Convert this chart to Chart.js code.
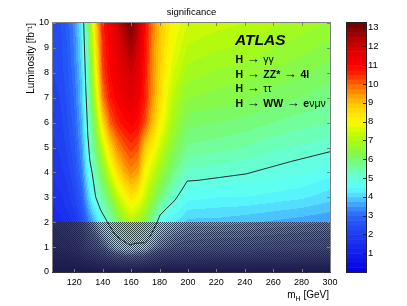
<!DOCTYPE html>
<html>
<head>
<meta charset="utf-8">
<script src="https://cdn.jsdelivr.net/npm/chart.js@4"></script>
<style>
  html, body { margin: 0; padding: 0; background: #fff; }
  #wrap { position: relative; width: 407px; height: 306px; }
  #chart { position: absolute; left: 0; top: 0; }
  #cbar { position: absolute; left: 337px; top: 0; }
</style>
</head>
<body>
<div id="wrap">
  <canvas id="chart" width="407" height="306"></canvas>
  <canvas id="cbar" width="70" height="306"></canvas>
</div>
<script>
// data

// grid of the significance map
const masses = [105, 110, 115, 120, 125, 130, 135, 140, 145, 150, 155, 160, 165, 170, 175, 180, 185, 190, 200, 220, 240, 260, 280, 300]; // GeV
const lumis = [0, 1, 2, 3, 4, 5, 6, 7, 8, 9, 10]; // fb-1

// significance, one row per luminosity, one value per mass
const sig_L0  = [0, 0, 0, 0, 0, 0, 0, 0, 0, 0, 0, 0, 0, 0, 0, 0, 0, 0, 0, 0, 0, 0, 0, 0];
const sig_L1  = [0.9, 1.0, 1.1, 1.3, 1.6, 2.2, 2.6, 3.1, 3.8, 4.4, 4.7, 4.9, 4.7, 4.6, 3.9, 3.5, 3.3, 3.1, 3.0, 2.9, 2.9, 2.8, 2.75, 2.7];
const sig_L2  = [1.3, 1.4, 1.6, 1.8, 2.3, 3.2, 3.9, 4.8, 5.3, 6.0, 6.6, 7.1, 6.8, 6.3, 5.6, 4.8, 4.5, 4.3, 3.9, 3.9, 3.8, 3.7, 3.6, 3.5];
const sig_L3  = [1.6, 1.7, 1.9, 2.2, 2.8, 4.0, 5.0, 5.6, 6.3, 7.2, 7.9, 8.4, 8.1, 7.4, 6.6, 6.0, 5.5, 5.1, 4.6, 4.5, 4.5, 4.4, 4.3, 4.1];
const sig_L4  = [1.8, 1.9, 2.1, 2.5, 3.2, 4.6, 5.5, 6.4, 7.5, 8.5, 9.2, 9.6, 9.3, 8.0, 7.4, 6.8, 6.3, 5.8, 5.2, 5.1, 5.0, 4.9, 4.8, 4.6];
const sig_L5  = [1.95, 2.05, 2.3, 2.7, 3.5, 4.95, 6.0, 7.3, 8.6, 9.6, 10.1, 10.4, 10.1, 8.8, 8.2, 7.5, 6.9, 6.4, 5.7, 5.6, 5.5, 5.3, 5.2, 5.1];
const sig_L6  = [2.05, 2.15, 2.45, 2.9, 3.7, 5.2, 6.6, 8.6, 10.0, 10.6, 10.9, 11.1, 10.9, 10.2, 9.1, 8.2, 7.5, 6.8, 6.1, 6.0, 5.9, 5.75, 5.6, 5.5];
const sig_L7  = [2.15, 2.25, 2.55, 3.05, 3.9, 5.4, 7.3, 9.8, 10.7, 11.1, 11.4, 11.6, 11.3, 10.6, 9.5, 8.6, 7.8, 7.2, 6.5, 6.4, 6.3, 6.1, 6.0, 5.8];
const sig_L8  = [2.25, 2.35, 2.65, 3.2, 4.0, 5.6, 7.9, 10.3, 11.0, 11.4, 11.7, 12.0, 11.6, 10.7, 9.6, 8.8, 8.1, 7.5, 6.9, 6.7, 6.6, 6.45, 6.3, 6.1];
const sig_L9  = [2.3, 2.4, 2.75, 3.3, 4.2, 5.8, 8.4, 10.5, 11.1, 11.6, 12.1, 12.6, 11.9, 10.8, 9.7, 8.9, 8.3, 7.8, 7.2, 7.05, 6.95, 6.75, 6.6, 6.4];
const sig_L10 = [2.35, 2.45, 2.85, 3.4, 4.3, 6.1, 8.8, 10.7, 11.2, 11.9, 12.6, 13.2, 12.3, 10.9, 9.8, 9.0, 8.5, 8.0, 7.5, 7.35, 7.25, 7.05, 6.9, 6.7];
const sigRows = [sig_L0, sig_L1, sig_L2, sig_L3, sig_L4, sig_L5, sig_L6, sig_L7, sig_L8, sig_L9, sig_L10];

// 5 sigma line
const lineMass = [126.6, 128, 129.5, 130.9, 132.6, 135, 138.5, 143.2, 148.7, 153.4, 159.2, 162.7, 169.8, 173.3, 178, 180.4, 185.1, 191, 195.6, 199.5, 207, 241, 272, 300];
const lineLumi = [10, 7.5, 5.5, 4.5, 3.96, 3.02, 2.49, 2.02, 1.49, 1.29, 1.08, 1.15, 1.18, 1.42, 1.96, 2.29, 2.56, 2.89, 3.29, 3.65, 3.68, 3.94, 4.43, 4.83];

// ticks
const xTicks = [120, 140, 160, 180, 200, 220, 240, 260, 280, 300];
const yTicks = [0, 1, 2, 3, 4, 5, 6, 7, 8, 9, 10];
const zTicks = [1, 2, 3, 4, 5, 6, 7, 8, 9, 10, 11, 12, 13];
const zMax = 13.25;
const zStep = 0.25; // contour level width
const hatchBelow = 2; // fb-1

// palette
const palVals = [0, 1, 2, 3, 3.5, 4, 4.5, 5, 5.5, 6, 6.5, 7, 7.5, 8, 8.5, 9, 9.5, 10, 10.5, 11, 12, 12.5, 13.25];
const palCols = [[0,0,230],[20,30,235],[30,60,240],[40,100,250],[60,150,255],[80,210,255],[90,255,250],[100,255,220],[110,255,170],[120,250,110],[140,250,60],[170,250,20],[210,250,0],[250,250,0],[255,225,0],[255,195,0],[255,150,0],[255,100,0],[255,40,0],[255,0,0],[210,0,0],[170,0,0],[110,0,0]];

const FONT = '"Liberation Sans", Arial, Helvetica, sans-serif';

function palette(v) {
  if (v <= palVals[0]) return palCols[0];
  for (let i = 0; i < palVals.length - 1; i++) {
    if (v <= palVals[i+1]) {
      const t = (v - palVals[i]) / (palVals[i+1] - palVals[i]);
      const a = palCols[i], b = palCols[i+1];
      return [0, 1, 2].map(k => Math.round(a[k] + (b[k] - a[k]) * t));
    }
  }
  return palCols[palCols.length - 1];
}

// one colour per contour level
const nLevels = Math.ceil(zMax / zStep);
const levelCols = [];
for (let k = 0; k < nLevels; k++) levelCols.push(palette((k + 0.5) * zStep));

function levelOf(v) {
  return Math.max(0, Math.min(nLevels - 1, Math.floor(v / zStep)));
}

function findCell(arr, v) {
  let i = 0;
  while (i < arr.length - 2 && v > arr[i+1]) i++;
  const t = Math.min(1, Math.max(0, (v - arr[i]) / (arr[i+1] - arr[i])));
  return [i, t];
}

function sigAt(m, L) {
  const [i, tx] = findCell(masses, m);
  const [j, ty] = findCell(lumis, L);
  const r0 = sigRows[j], r1 = sigRows[j+1];
  const lo = r0[i] * (1 - tx) + r0[i+1] * tx;
  const hi = r1[i] * (1 - tx) + r1[i+1] * tx;
  return lo * (1 - ty) + hi * ty;
}

// hatch pattern for the low luminosity band
const pc = document.createElement('canvas');
pc.width = 2; pc.height = 2;
const pctx = pc.getContext('2d');
pctx.fillStyle = 'rgba(35,35,55,0.85)';
pctx.fillRect(0, 0, 1, 1);
pctx.fillRect(1, 1, 1, 1);

// filled contours
const heatmap = {
  id: 'heatmap',
  beforeDatasetsDraw(chart) {
    const {ctx, chartArea: a, scales: {x, y}} = chart;
    const w = Math.round(a.right - a.left), h = Math.round(a.bottom - a.top);
    const img = ctx.createImageData(w, h);
    for (let j = 0; j < h; j++) {
      const L = y.getValueForPixel(a.top + j + 0.5);
      for (let i = 0; i < w; i++) {
        const m = x.getValueForPixel(a.left + i + 0.5);
        const c = levelCols[levelOf(sigAt(m, L))];
        const p = (j * w + i) * 4;
        img.data[p] = c[0]; img.data[p+1] = c[1]; img.data[p+2] = c[2]; img.data[p+3] = 255;
      }
    }
    ctx.putImageData(img, Math.round(a.left), Math.round(a.top));

    // hatched band
    ctx.save();
    ctx.fillStyle = ctx.createPattern(pc, 'repeat');
    const yh = Math.round(y.getPixelForValue(hatchBelow));
    ctx.fillRect(a.left, yh, a.right - a.left, a.bottom - yh);
    ctx.restore();
  }
};

function drawRuns(ctx, x, y, runs) {
  for (const [txt, style, size] of runs) {
    ctx.font = style + ' ' + size + 'px ' + FONT;
    ctx.fillText(txt, x, y);
    x += ctx.measureText(txt).width;
  }
}

const ARROW = [' \u2192 ', '', 13];
const channels = [
  [['H', 'bold', 10.5], ARROW, ['\u03b3\u03b3', '', 10.5]],
  [['H', 'bold', 10.5], ARROW, ['ZZ*', 'bold', 10.5], ARROW, ['4l', 'bold', 10.5]],
  [['H', 'bold', 10.5], ARROW, ['\u03c4\u03c4', '', 10.5]],
  [['H', 'bold', 10.5], ARROW, ['WW', 'bold', 10.5], ARROW, ['e', 'bold', 10.5], ['\u03bd\u03bc\u03bd', '', 10.5]]
];

// frame, inner ticks and texts
const decor = {
  id: 'decor',
  afterDraw(chart) {
    const {ctx, chartArea: a, scales: {x, y}} = chart;
    ctx.save();
    ctx.strokeStyle = '#808080';
    ctx.lineWidth = 1;
    ctx.beginPath();
    xTicks.forEach(v => {
      const px = Math.round(x.getPixelForValue(v)) + 0.5;
      ctx.moveTo(px, a.top); ctx.lineTo(px, a.top + 3);
      ctx.moveTo(px, a.bottom); ctx.lineTo(px, a.bottom - 3);
    });
    yTicks.forEach(v => {
      const py = Math.round(y.getPixelForValue(v)) + 0.5;
      ctx.moveTo(a.left, py); ctx.lineTo(a.left + 3, py);
      ctx.moveTo(a.right, py); ctx.lineTo(a.right - 3, py);
    });
    ctx.stroke();
    ctx.strokeRect(Math.round(a.left) - 0.5, Math.round(a.top) - 0.5, Math.round(a.right - a.left) + 1, Math.round(a.bottom - a.top) + 1);
    ctx.strokeStyle = '#333';
    ctx.beginPath();
    ctx.moveTo(a.left - 1, a.bottom + 0.5); ctx.lineTo(a.right + 1, a.bottom + 0.5);
    ctx.stroke();

    ctx.fillStyle = '#000';
    ctx.textBaseline = 'alphabetic';
    // title
    ctx.font = '9.5px ' + FONT;
    ctx.textAlign = 'center';
    ctx.fillText('significance', (a.left + a.right) / 2, 15);

    // x title, right aligned
    ctx.textAlign = 'left';
    ctx.font = '10px ' + FONT;
    const wM = ctx.measureText('m').width, wG = ctx.measureText(' [GeV]').width;
    ctx.font = '7px ' + FONT;
    const wH = ctx.measureText('H').width;
    let tx = a.right - 1 - wM - wH - wG;
    ctx.font = '10px ' + FONT;
    ctx.fillText('m', tx, 297.5);
    ctx.font = '7px ' + FONT;
    ctx.fillText('H', tx + wM, 301);
    ctx.font = '10px ' + FONT;
    ctx.fillText(' [GeV]', tx + wM + wH, 297.5);

    // labels
    ctx.font = 'italic bold 15.5px ' + FONT;
    ctx.fillText('ATLAS', 235, 44.5);
    const base = [63, 77.5, 92, 107];
    channels.forEach((runs, k) => drawRuns(ctx, 235.5, base[k], runs));
    ctx.restore();
  }
};

var chart = new Chart(document.getElementById('chart'), {
  type: 'scatter',
  data: {
    datasets: [{
      label: '5 sigma',
      data: lineMass.map((m, i) => ({x: m, y: lineLumi[i]})),
      showLine: true,
      borderColor: '#2a2a2a',
      borderWidth: 1,
      pointRadius: 0,
      fill: false,
      tension: 0
    }]
  },
  options: {
    responsive: false,
    animation: false,
    devicePixelRatio: 1,
    layout: { padding: { top: 23, right: 77, left: 0, bottom: 0 } },
    plugins: { legend: { display: false }, tooltip: { enabled: false }, title: { display: false } },
    scales: {
      x: {
        type: 'linear', min: 105, max: 300,
        grid: { display: false, drawTicks: false },
        border: { display: false },
        afterBuildTicks: s => { s.ticks = xTicks.map(v => ({value: v})); },
        afterFit: s => { s.height = 34; },
        ticks: { color: '#000', font: { family: FONT, size: 9 }, padding: 5, maxRotation: 0, autoSkip: false }
      },
      y: {
        type: 'linear', min: 0, max: 10,
        grid: { display: false, drawTicks: false },
        border: { display: false },
        afterBuildTicks: s => { s.ticks = yTicks.map(v => ({value: v})); },
        afterFit: s => { s.width = 53; },
        ticks: { color: '#000', font: { family: FONT, size: 9 }, padding: 4, autoSkip: false },
        title: {
          display: true, text: 'Luminosity [fb\u207b\u00b9]', align: 'end', color: '#000',
          font: { family: FONT, size: 10 }, padding: { top: 25.5, bottom: 0 }
        }
      }
    }
  },
  plugins: [heatmap, decor]
});

// colour bar
const colorbar = {
  id: 'colorbar',
  beforeDraw(c) {
    const {ctx, chartArea: a, scales: {y}} = c;
    ctx.save();
    for (let k = 0; k < nLevels; k++) {
      const y0 = y.getPixelForValue(k * zStep), y1 = y.getPixelForValue(Math.min(zMax, (k + 1) * zStep));
      const col = levelCols[k];
      ctx.fillStyle = 'rgb(' + col[0] + ',' + col[1] + ',' + col[2] + ')';
      ctx.fillRect(a.left, y1, a.right - a.left, y0 - y1 + 0.5);
    }
    ctx.strokeStyle = '#222';
    ctx.lineWidth = 1;
    ctx.strokeRect(Math.round(a.left) - 0.5, Math.round(a.top) - 0.5, Math.round(a.right - a.left) + 1, Math.round(a.bottom - a.top) + 1);
    ctx.beginPath();
    zTicks.forEach(v => {
      const py = Math.round(y.getPixelForValue(v)) + 0.5;
      ctx.moveTo(a.right, py); ctx.lineTo(a.right - 3, py);
    });
    ctx.stroke();
    ctx.restore();
  }
};

var chart2 = new Chart(document.getElementById('cbar'), {
  type: 'scatter',
  data: { datasets: [] },
  options: {
    responsive: false,
    animation: false,
    devicePixelRatio: 1,
    layout: { padding: { left: 10, top: 23, bottom: 34, right: 0 } },
    plugins: { legend: { display: false }, tooltip: { enabled: false } },
    scales: {
      x: { display: false, min: 0, max: 1 },
      y: {
        type: 'linear', position: 'right', min: 0, max: zMax,
        grid: { display: false, drawTicks: false },
        border: { display: false },
        afterBuildTicks: s => { s.ticks = zTicks.map(v => ({value: v})); },
        afterFit: s => { s.width = 41; },
        ticks: { color: '#000', font: { family: FONT, size: 9.5 }, padding: 2, autoSkip: false }
      }
    }
  },
  plugins: [colorbar]
});
</script>
</body>
</html>
